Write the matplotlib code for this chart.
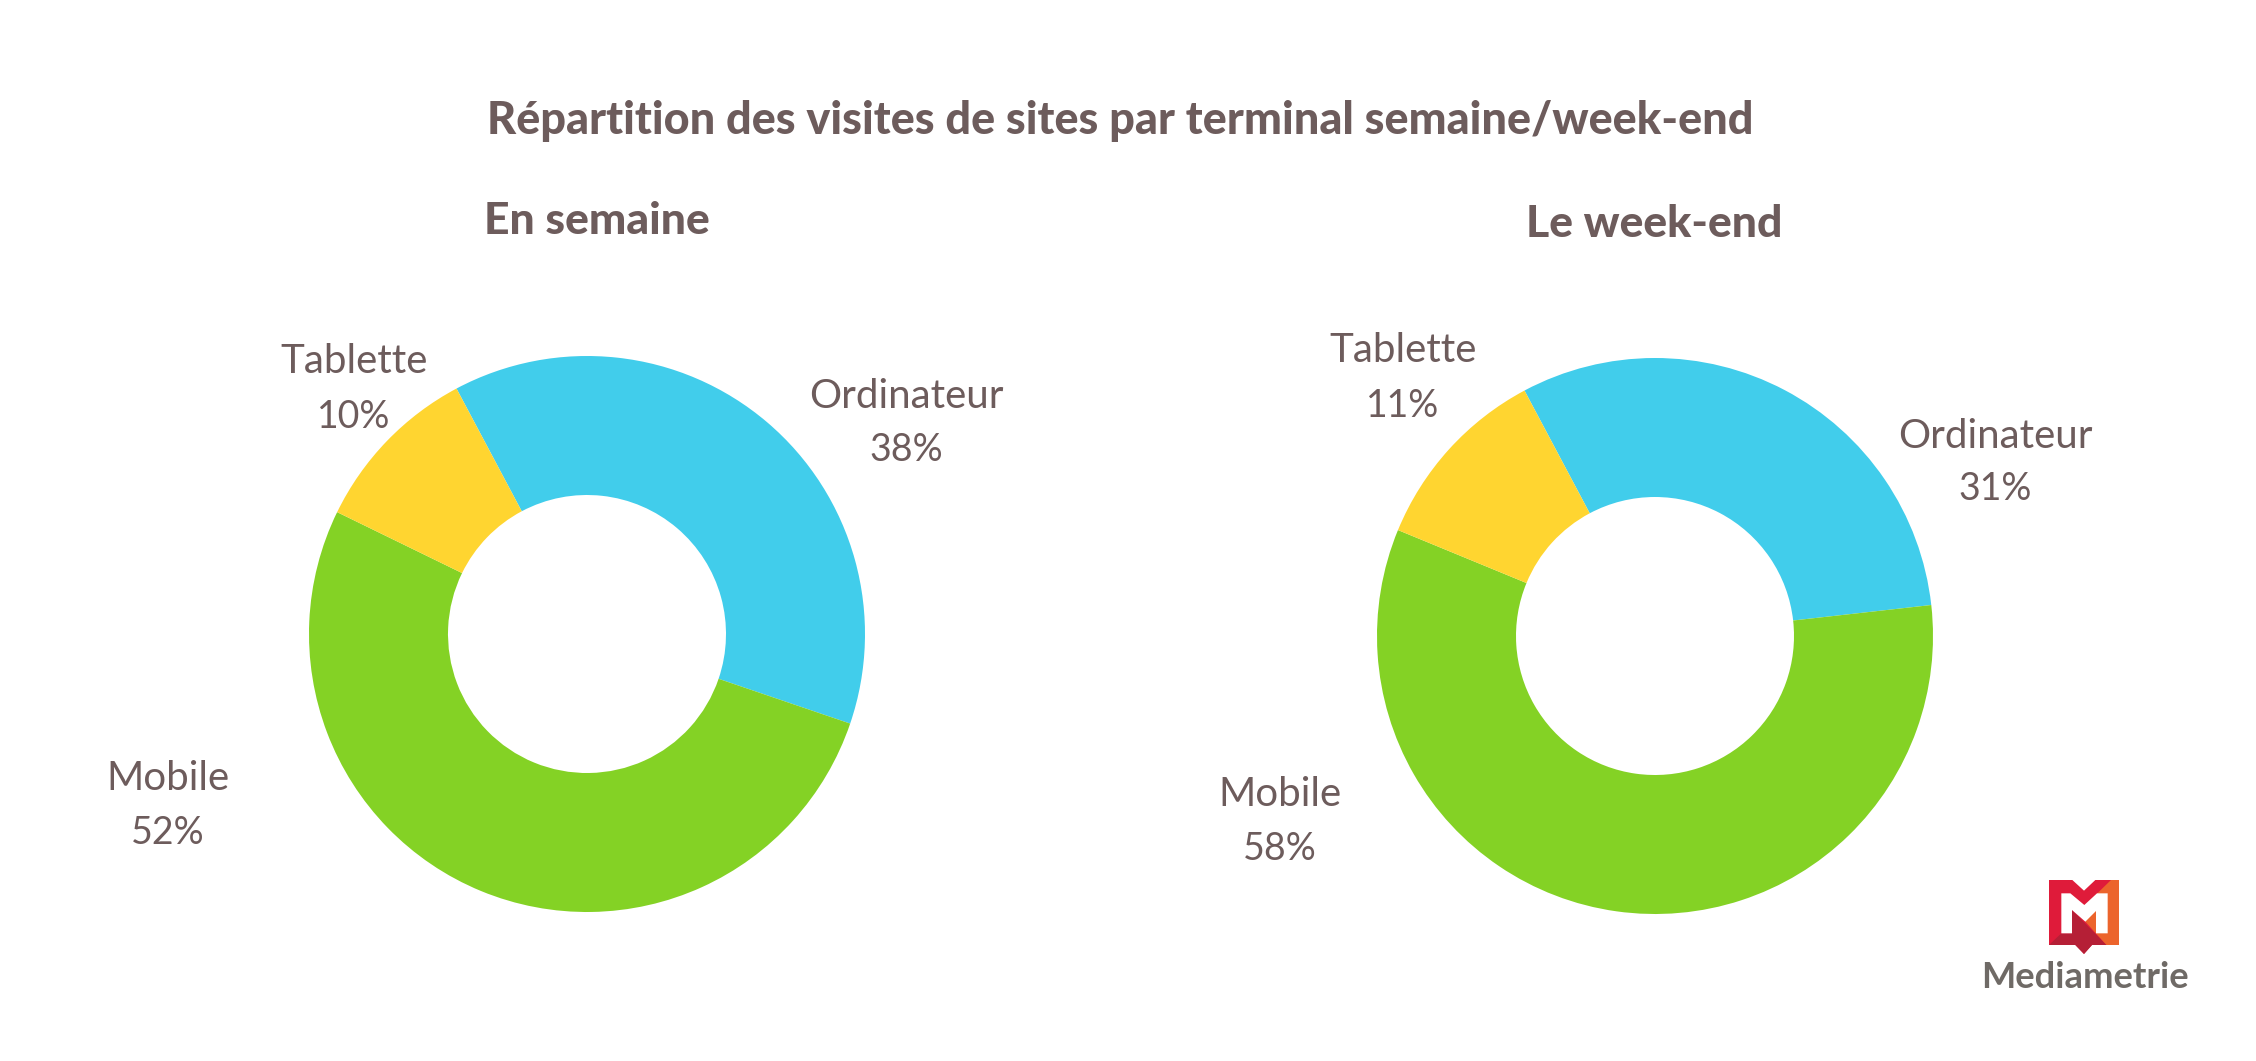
import matplotlib
matplotlib.use('Agg')
import matplotlib.pyplot as plt
from matplotlib.patches import Polygon

W, H = 2256, 1061
title = "Répartition des visites de sites par terminal semaine/week-end"
sub_left = "En semaine"
sub_right = "Le week-end"
categories = ["Ordinateur", "Mobile", "Tablette"]
values_left = [38, 52, 10]
values_right = [31, 58, 11]
colors = ["#41CDEB", "#84D225", "#FFD530"]
text_color = "#6D5C5C"

plt.rcParams['font.family'] = ['Lato', 'DejaVu Sans']
fig = plt.figure(figsize=(W/100, H/100), dpi=100, facecolor='white')

def donut(cx, cy, r, vals):
    ax = fig.add_axes([(cx-r-2)/W, 1-(cy+r+2)/H, (2*r+4)/W, (2*r+4)/H])
    ax.pie(vals, colors=colors, startangle=118, counterclock=False, radius=1,
           wedgeprops=dict(width=0.5, linewidth=0))
    ax.set_xlim(-1-2/r, 1+2/r); ax.set_ylim(-1-2/r, 1+2/r)
    ax.set_aspect('equal')

donut(587, 634, 278, values_left)
donut(1655, 636, 278, values_right)

def T(x, y, s, size, weight='normal', color=text_color):
    fig.text(x/W, 1-y/H, s, ha='center', va='center', fontsize=size, color=color, fontweight=weight)

T(1120, 121, title, 32.4, 'black')
T(597, 221, sub_left, 32, 'black')
T(1654, 224, sub_right, 32, 'black')

def lab(x, y1, y2, c, v):
    T(x, y1, c, 29)
    T(x, y2, f"{v}%", 27)

def idx(name):
    return categories.index(name)

lab(906, 397, 450, "Ordinateur", values_left[idx("Ordinateur")])
lab(168, 779, 833, "Mobile", values_left[idx("Mobile")])
lab(354, 362, 417, "Tablette", values_left[idx("Tablette")])
lab(1995, 436, 489, "Ordinateur", values_right[idx("Ordinateur")])
lab(1280, 794, 849, "Mobile", values_right[idx("Mobile")])
lab(1403, 351, 406, "Tablette", values_right[idx("Tablette")])

# logo (shape coordinates of the emblem only)
logo = fig.add_axes([2049/W, 1-954/H, 70/W, 74/H]); logo.axis('off')
logo.set_xlim(296, 506); logo.set_ylim(312, 90)
logo.add_patch(Polygon([(296,90),(366,90),(401,122),(435,90),(506,90),(506,285),(425,285),(401,312),(375,285),(296,285)], closed=True, fc='#DF1B3A', lw=0))
logo.add_patch(Polygon([(482,90),(506,90),(506,285),(468,285),(405,215),(405,165)], closed=True, fc='#EC642C', lw=0))
logo.add_patch(Polygon([(296,285),(333,250),(365,250),(365,180),(468,285),(425,285),(401,312),(375,285)], closed=True, fc='#B51F36', lw=0))
logo.add_patch(Polygon([(333,130),(360,130),(402,165),(440,130),(472,130),(472,250),(437,250),(437,183),(405,215),(365,180),(365,250),(333,250)], closed=True, fc='white', lw=0))
fig.text(2084.5/W, 1-977/H, "Mediametrie", ha='center', va='center', fontsize=26.2, color='#6F6A66', fontweight='bold')

fig.savefig('out.png', dpi=100, facecolor='white')
